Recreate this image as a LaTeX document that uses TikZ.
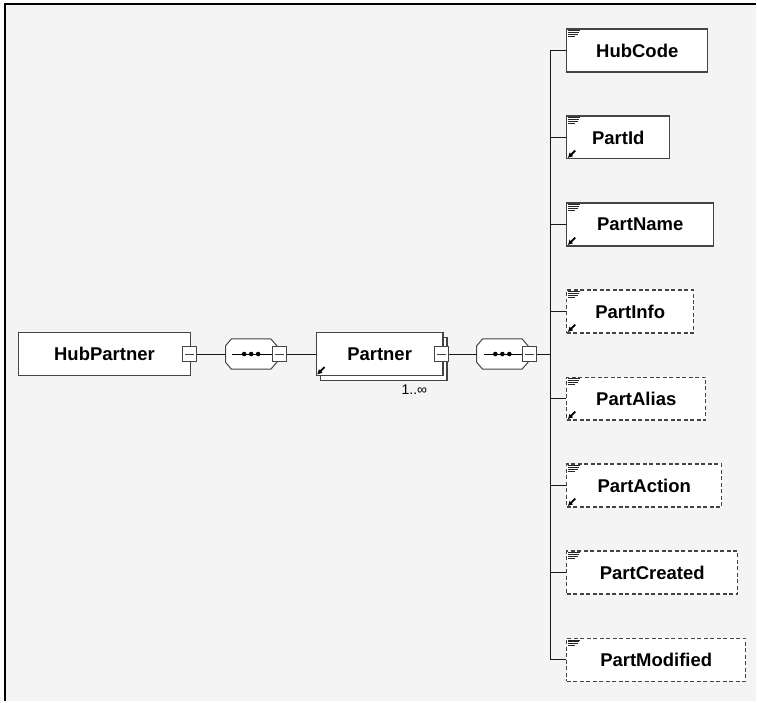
\documentclass[tikz,border=0pt]{standalone}
\usepackage{fontspec}
\setmainfont{Liberation Sans}
\usetikzlibrary{arrows.meta}
\definecolor{bg}{HTML}{F4F4F4}
\definecolor{edge}{HTML}{444444}
\begin{document}
\begin{tikzpicture}[x=1pt,y=-1pt,>={Latex[length=5pt,width=5.5pt]},
  elem/.style={draw=edge,fill=white,line width=1.2pt,minimum height=43pt,inner sep=0pt,anchor=west,font=\bfseries\fontsize{18.5}{22}\selectfont},
  optelem/.style={elem,dash pattern=on 4pt off 2.5pt},
  minus/.style={draw=edge,fill=white,line width=1pt,minimum width=14pt,minimum height=15pt,inner sep=0pt,
    path picture={\draw[line width=0.9pt] ([xshift=2.5pt]path picture bounding box.west)--([xshift=-2.5pt]path picture bounding box.east);}},
  seq/.style={minimum width=51pt,minimum height=30pt,inner sep=0pt},
  conn/.style={line width=0.9pt,black!90},
  icon/.style={line width=0.8pt,black!85}]
\fill[white](0,0) rectangle (757,702);
\fill[bg](5,4) rectangle (757,702);
\draw[line width=2pt](5,702)--(5,4)--(757,4);
\node[elem,minimum width=172pt] (hubpartner) at (18,354.5){HubPartner};
\node[seq] (seqa) at (251.5,354.5){};
\node[elem,minimum width=127pt] (partnerbk) at (320,359.5){};
\node[elem,minimum width=127pt] (partner) at (316,354.5){Partner};
\node[font=\fontsize{14}{16}\selectfont] (partnermult) at (415,390){1..∞};
\node[seq] (seqb) at (503,354.5){};
\foreach \n in {seqa,seqb}{
  \filldraw[draw=edge,fill=white,line width=1pt]([xshift=6pt]\n.north west)--([xshift=-6pt]\n.north east)--([yshift=-7pt]\n.north east)
    --([yshift=7pt]\n.south east)--([xshift=-6pt]\n.south east)--([xshift=6pt]\n.south west)--([yshift=7pt]\n.south west)--([yshift=-7pt]\n.north west)--cycle;
  \draw[line width=1pt]([xshift=7pt]\n.west)--(\n.east);
  \foreach \d in {-7,0,7} \fill([xshift=\d pt]\n.center) circle (2.3);
}
\node[minus] (hubpartnerm) at (190,354.5){};
\node[minus] (seqam) at (279.5,354.5){};
\node[minus] (partnerm) at (442,354.5){};
\node[minus] (seqbm) at (530.5,354.5){};
\coordinate (bus) at (551,354.5);
\node[elem,minimum width=141pt] (hubcode) at (567,50.5){HubCode};
\node[elem,minimum width=103pt] (partid) at (567,137.6){PartId};
\node[elem,minimum width=147pt] (partname) at (567,224.8){PartName};
\node[optelem,minimum width=127pt] (partinfo) at (567,311.9){PartInfo};
\node[optelem,minimum width=139pt] (partalias) at (567,399.1){PartAlias};
\node[optelem,minimum width=155pt] (partaction) at (567,486.2){PartAction};
\node[optelem,minimum width=171pt] (partcreated) at (567,573.3){PartCreated};
\node[optelem,minimum width=179pt] (partmodified) at (567,660.5){PartModified};
\draw[conn](hubpartnerm.east)--(seqa.west);
\draw[conn](seqam.east)--(partner.west);
\draw[conn](partnerm.east)--(seqb.west);
\draw[conn](seqbm.east)--(bus);
\draw[conn](hubcode.west)-|(bus)|-(partmodified.west);
\foreach \n in {partid,partname,partinfo,partalias,partaction,partcreated}
  \draw[conn](bus|-\n.west)--(\n.west);
\foreach \n in {hubcode,partid,partname,partinfo,partalias,partaction,partcreated,partmodified}
  \draw[icon]([shift={(2,2.4)}]\n.north west)--++(12,0)([shift={(2,4.3)}]\n.north west)--++(11,0)
    ([shift={(2,6.2)}]\n.north west)--++(10,0)([shift={(2,8.1)}]\n.north west)--++(7,0);
\foreach \n in {partner,partid,partname,partinfo,partalias,partaction}
  \draw[->,line width=1.8pt]([shift={(9,-9)}]\n.south west)--([shift={(1.5,-1.5)}]\n.south west);
\end{tikzpicture}
\end{document}
